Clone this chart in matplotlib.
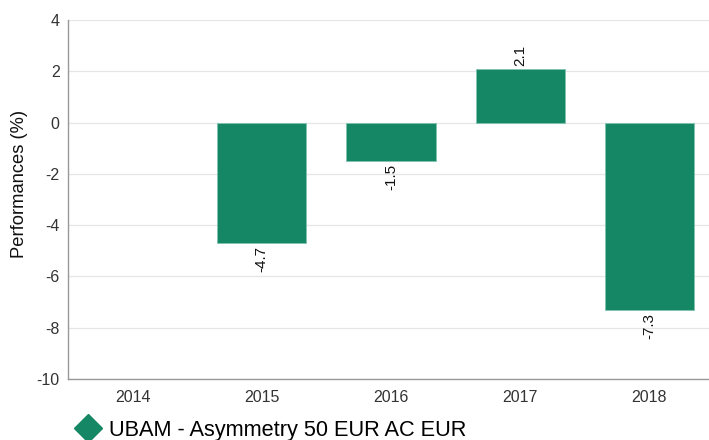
import matplotlib.pyplot as plt
import numpy as np
from matplotlib.lines import Line2D

plt.rcParams['font.family'] = ['Liberation Sans', 'DejaVu Sans']
plt.rcParams['axes.unicode_minus'] = False

years = ['2014', '2015', '2016', '2017', '2018']
perf = [np.nan, -4.7, -1.5, 2.1, -7.3]
series_name = 'UBAM - Asymmetry 50 EUR AC EUR'
bar_color = '#168765'

fig = plt.figure(figsize=(7.09, 4.4), dpi=100)
ax = fig.add_axes([68 / 709, 1 - 379 / 440, 646 / 709, 359 / 440])

x = np.arange(len(years))
ax.bar(x, perf, width=0.69, color=bar_color, edgecolor='#7fc4b0', linewidth=0.6, zorder=3)

for xi, v in zip(x, perf):
    if np.isnan(v):
        continue
    off = 0.12 if v > 0 else -0.12
    ax.text(xi, v + off, f'{v:.1f}', rotation=90, ha='center',
            va='bottom' if v > 0 else 'top', fontsize=11, color='#111111')

ax.set_xlim(-0.5, len(years) - 0.5)
ax.set_ylim(-10, 4)
ax.set_yticks(np.arange(-10, 5, 2))
ax.set_xticks(x)
ax.set_xticklabels(years)
ax.tick_params(axis='both', length=0, labelsize=11.5, labelcolor='#333333')
ax.tick_params(axis='x', pad=8)
ax.tick_params(axis='y', pad=6)
ax.grid(axis='y', color='#e6e6e6', linewidth=0.9, zorder=0)
for s in ['top', 'right']:
    ax.spines[s].set_visible(False)
for s in ['left', 'bottom']:
    ax.spines[s].set_color('#999999')
    ax.spines[s].set_linewidth(1)

ax.set_ylabel('Performances (%)', fontsize=13.2, color='#111111')
ax.yaxis.set_label_coords((28 - 68) / 709 * 709 / 646, (379 - 184) / 359)

handle = Line2D([], [], marker='D', linestyle='none', markersize=14,
                markerfacecolor=bar_color, markeredgecolor=bar_color)
fig.legend([handle], [series_name], loc='lower left', bbox_to_anchor=(57 / 709, -0.022),
           frameon=False, fontsize=15.7, handletextpad=0.0, borderaxespad=0)

fig.savefig('out.png', dpi=100)
